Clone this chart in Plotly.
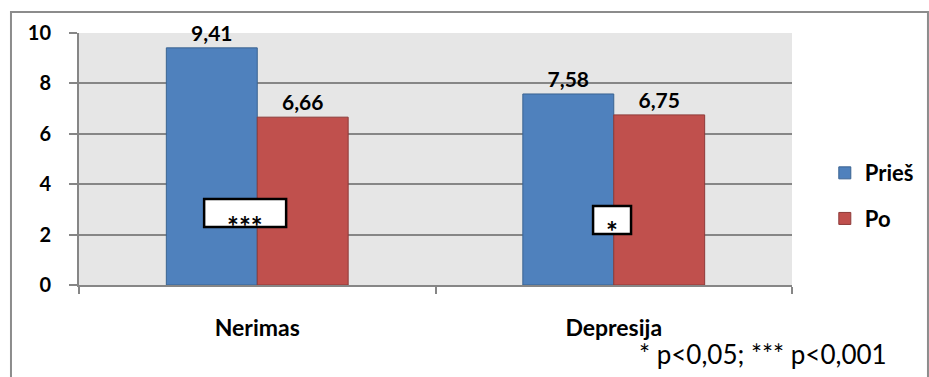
import plotly.graph_objects as go

categories = ["Nerimas", "Depresija"]
pries = [9.41, 7.58]
po = [6.66, 6.75]
series_names = ["Prieš", "Po"]
significance = ["***", "*"]
footnote = "* p<0,05; *** p<0,001"

FONT = "Lato, 'Liberation Sans', Arial, sans-serif"

fig = go.Figure()
fig.add_trace(go.Bar(
    x=categories, y=pries, name=f"<b>{series_names[0]}</b>", legendgroup="a",
    marker=dict(color="#4F81BD", line=dict(color="#3A6391", width=1)),
    texttemplate="<b>%{y:.2f}</b>", textposition="outside",
    textfont=dict(family=FONT, size=21, color="#000000"), cliponaxis=False,
))
fig.add_trace(go.Bar(
    x=categories, y=po, name=f"<b>{series_names[1]}</b>", legendgroup="b",
    marker=dict(color="#C0504D", line=dict(color="#8E3B39", width=1)),
    texttemplate="<b>%{y:.2f}</b>", textposition="outside",
    textfont=dict(family=FONT, size=21, color="#000000"), cliponaxis=False,
))

# significance boxes over each category pair
boxes = [(-0.149, 0.081, 2.30, 3.41), (0.942, 1.0485, 2.02, 3.13)]
text_pos = [(-0.034, 2.35), (0.995, 2.15)]
for (x0, x1, y0, y1), (tx, ty), s in zip(boxes, text_pos, significance):
    fig.add_shape(type="rect", xref="x", yref="y", x0=x0, x1=x1, y0=y0, y1=y1,
                  fillcolor="white", line=dict(color="black", width=2.5), layer="above")
    fig.add_annotation(x=tx, y=ty, xref="x", yref="y", text=f"<b>{s}</b>", showarrow=False,
                       font=dict(family=FONT, size=28, color="#000000"))

# outer chart frame
fig.add_shape(type="rect", xref="paper", yref="paper", x0=-0.0954, x1=1.1907, y0=-0.5, y1=1.0833,
              line=dict(color="#8C8C8C", width=2), fillcolor="rgba(0,0,0,0)", layer="below")

fig.add_annotation(x=0.782, y=-0.272, xref="paper", yref="paper", text=footnote,
                   showarrow=False, xanchor="left", yanchor="middle",
                   font=dict(family=FONT, size=26, color="#000000"))

fig.update_layout(
    width=929, height=377,
    margin=dict(l=79, r=137, t=33, b=92, autoexpand=False),
    paper_bgcolor="white", plot_bgcolor="#E6E6E6",
    barmode="group", bargap=0.49, bargroupgap=0,
    separators=",.",
    font=dict(family=FONT, color="#000000"),
    legend=dict(x=1.046, y=0.353, xanchor="left", yanchor="middle",
                font=dict(family=FONT, size=22, color="#000000"),
                tracegroupgap=14, itemclick=False),
    xaxis=dict(showgrid=False, showline=True, linecolor="#868686", linewidth=2,
               ticks="outside", ticklen=7, tickcolor="#868686", tickwidth=2,
               tickson="boundaries", ticklabelstandoff=21,
               tickfont=dict(family=FONT, size=23, color="#000000"),
               tickprefix="<b>", ticksuffix="</b>"),
    yaxis=dict(range=[0, 10], dtick=2, showgrid=True, gridcolor="#868686", gridwidth=2,
               showline=True, linecolor="#868686", linewidth=2,
               ticks="outside", ticklen=8, tickcolor="#868686", tickwidth=2,
               tickfont=dict(family=FONT, size=20, color="#000000"),
               tickprefix="<b>", ticksuffix="</b>", ticklabelstandoff=14,
               zeroline=False),
)

fig.write_html("out.html")
